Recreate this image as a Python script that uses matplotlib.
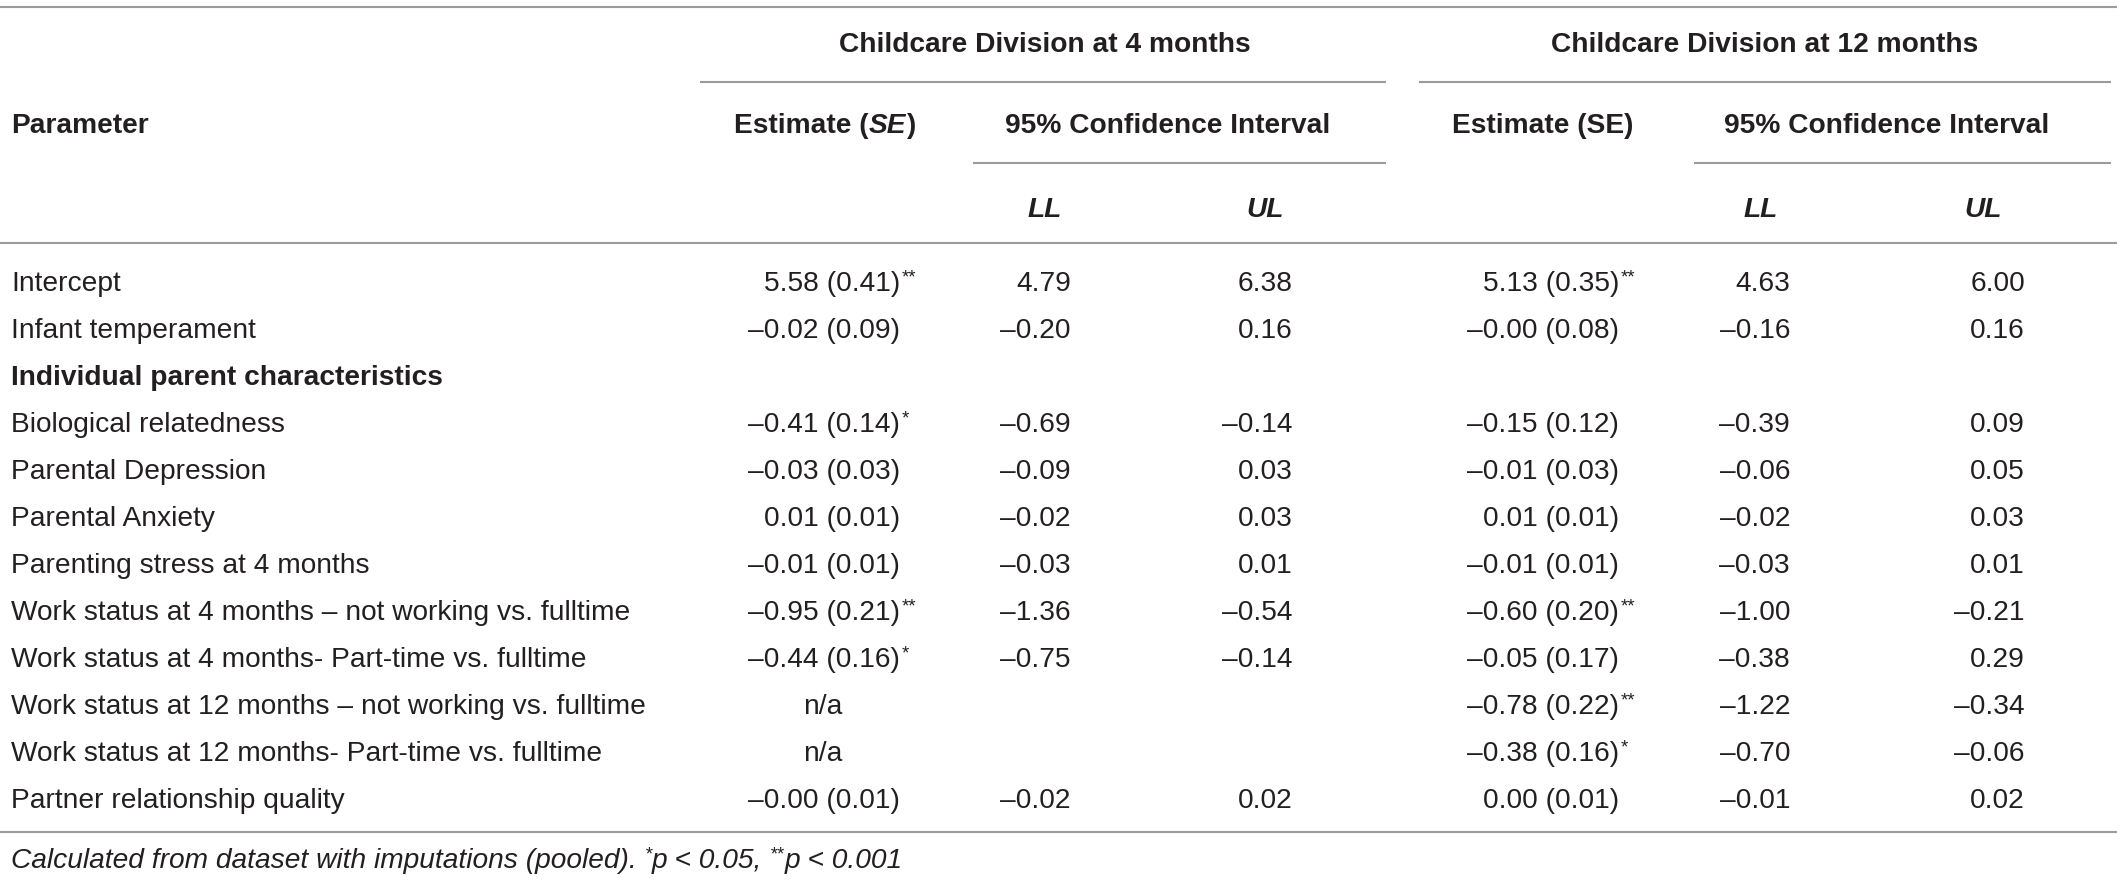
import matplotlib
matplotlib.use('Agg')
import matplotlib.pyplot as plt
from matplotlib import font_manager

# table content
rows = ['Intercept', 'Infant temperament', 'Individual parent characteristics',
        'Biological relatedness', 'Parental Depression', 'Parental Anxiety',
        'Parenting stress at 4 months',
        'Work status at 4 months \u2013 not working vs. fulltime',
        'Work status at 4 months- Part-time vs. fulltime',
        'Work status at 12 months \u2013 not working vs. fulltime',
        'Work status at 12 months- Part-time vs. fulltime',
        'Partner relationship quality']
bold_rows = [2]

est_4m = [5.58, -0.02, None, -0.41, -0.03, 0.01, -0.01, -0.95, -0.44, 'n/a', 'n/a', -0.0]
se_4m = [0.41, 0.09, None, 0.14, 0.03, 0.01, 0.01, 0.21, 0.16, None, None, 0.01]
sig_4m = ['**', '', '', '*', '', '', '', '**', '*', '', '', '']
ll_4m = [4.79, -0.20, None, -0.69, -0.09, -0.02, -0.03, -1.36, -0.75, None, None, -0.02]
ul_4m = [6.38, 0.16, None, -0.14, 0.03, 0.03, 0.01, -0.54, -0.14, None, None, 0.02]

est_12m = [5.13, -0.0, None, -0.15, -0.01, 0.01, -0.01, -0.60, -0.05, -0.78, -0.38, 0.0]
se_12m = [0.35, 0.08, None, 0.12, 0.03, 0.01, 0.01, 0.20, 0.17, 0.22, 0.16, 0.01]
sig_12m = ['**', '', '', '', '', '', '', '**', '', '**', '*', '']
ll_12m = [4.63, -0.16, None, -0.39, -0.06, -0.02, -0.03, -1.00, -0.38, -1.22, -0.70, -0.01]
ul_12m = [6.00, 0.16, None, 0.09, 0.05, 0.03, 0.01, -0.21, 0.29, -0.34, -0.06, 0.02]

groups = ['Childcare Division at 4 months', 'Childcare Division at 12 months']
footnote = 'Calculated from dataset with imputations (pooled). '

# fonts: a narrow Helvetica-like face if there is one
names = set(f.name for f in font_manager.fontManager.ttflist)
fams = [f for f in ['Liberation Sans Narrow', 'Liberation Sans', 'DejaVu Sans'] if f in names]
plt.rcParams['font.family'] = fams

W, H = 2117, 880
TXT = '#231f20'
LINE = '#9b9b9b'

fig = plt.figure(figsize=(W / 100, H / 100), dpi=100)
ax = fig.add_axes([0, 0, 1, 1])
ax.set_xlim(0, W)
ax.set_ylim(H, 0)
ax.axis('off')
renderer = fig.canvas.get_renderer()

FS = 18.7


def fmt(v):
    return '{:.2f}'.format(v).replace('-', '\u2013')


def text_w(s, size=None, weight='normal', style='normal', **_):
    t = ax.text(0, 0, s, fontsize=size or FS, fontweight=weight, fontstyle=style)
    w = t.get_window_extent(renderer).width if s.strip() else 0
    t.remove()
    return w


# fit the body size to the width of the longest label in the reference (~636 px)
FS = FS * 636 / text_w(rows[9])


def space_w(**kw):
    return text_w('a a', **kw) - text_w('aa', **kw)


def part_w(s, **kw):
    core = s.strip()
    if not core:
        return len(s) * space_w(**kw)
    n = (len(s) - len(s.lstrip())) + (len(s) - len(s.rstrip()))
    return text_w(core, **kw) + n * space_w(**kw)


def runs(x, y, parts, ha='left'):
    # parts: (text, dict of size/weight/style/rise)
    widths = [part_w(p[0], **p[1]) for p in parts]
    total = sum(widths)
    if ha == 'center':
        x = x - total / 2
    elif ha == 'right':
        x = x - total
    for (s, kw), w in zip(parts, widths):
        lead = len(s) - len(s.lstrip())
        xs = x + lead * space_w(**kw)
        ax.text(xs, y - kw.get('rise', 0), s.strip(), fontsize=kw.get('size') or FS,
                fontweight=kw.get('weight', 'normal'), fontstyle=kw.get('style', 'normal'),
                color=TXT, va='baseline', ha='left')
        x += w


def hline(y, x0, x1):
    ax.plot([x0, x1], [y, y], color=LINE, lw=1.5, solid_capstyle='butt')


B = {'weight': 'bold'}
BI = {'weight': 'bold', 'style': 'italic'}
R = {}
SUP = {'size': FS * 0.66, 'rise': 9}
IT = {'style': 'italic'}
ITSUP = {'style': 'italic', 'size': FS * 0.66, 'rise': 9}

base = 0.36 * FS * 100 / 72  # baseline offset from visual row centre

# rules
hline(7, 0, W)
hline(82, 700, 1386)
hline(82, 1419, 2111)
hline(163, 973, 1386)
hline(163, 1694, 2111)
hline(243, 0, W)
hline(832, 0, W)

# header
runs(1045, 42 + base, [(groups[0], B)], ha='center')
runs(1765, 42 + base, [(groups[1], B)], ha='center')
runs(11, 123 + base, [('Parameter', B)])
runs(825, 123 + base, [('Estimate (', B), ('SE', BI), (')', B)], ha='center')
runs(1168, 123 + base, [('95% Confidence Interval', B)], ha='center')
runs(1543, 123 + base, [('Estimate (SE)', B)], ha='center')
runs(1887, 123 + base, [('95% Confidence Interval', B)], ha='center')
for xc, lab in [(1045, 'LL'), (1265, 'UL'), (1761, 'LL'), (1983, 'UL')]:
    runs(xc, 207 + base, [(lab, BI)], ha='center')

# body
cols = [(est_4m, se_4m, sig_4m, ll_4m, ul_4m, 900, 1071, 1293, 823),
        (est_12m, se_12m, sig_12m, ll_12m, ul_12m, 1619, 1790, 2025, 1540)]
for i, name in enumerate(rows):
    y = 281 + 47 * i + base
    runs(11, y, [(name, B if i in bold_rows else R)])
    for est, se, sig, ll, ul, xe, xl, xu, xna in cols:
        v = est[i]
        if v is None:
            continue
        if v == 'n/a':
            runs(xna, y, [('n/a', R)], ha='center')
            continue
        runs(xe, y, [('{} ({:.2f})'.format(fmt(v), se[i]), R)], ha='right')
        if sig[i]:
            runs(xe + 2, y, [(sig[i], SUP)])
        runs(xl, y, [(fmt(ll[i]), R)], ha='right')
        runs(xu, y, [(fmt(ul[i]), R)], ha='right')

# footnote
runs(11, 858 + base, [(footnote, IT), ('*', ITSUP), ('p < 0.05, ', IT), ('**', ITSUP), ('p < 0.001', IT)])

fig.savefig('out.png', dpi=100)
